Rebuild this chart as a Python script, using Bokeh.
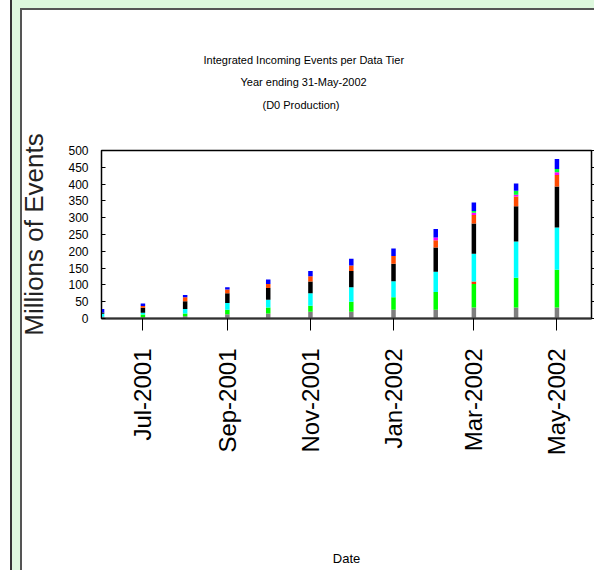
import pandas as pd
from bokeh.plotting import figure
from bokeh.models import (ColumnDataSource, Range1d, FixedTicker, DatetimeTickFormatter,
                          LinearAxis, Title)
from bokeh.embed import file_html
from bokeh.resources import INLINE

# ---- data (millions of events, integrated, per data tier) ----
months = ["2001-06-01", "2001-07-01", "2001-08-01", "2001-09-01", "2001-10-01", "2001-11-01",
          "2001-12-01", "2002-01-01", "2002-02-01", "2002-03-01", "2002-04-01", "2002-05-01"]
tier_gray    = [5, 4, 7, 13, 15, 20, 20, 26, 26, 33, 33, 33]
tier_green   = [0, 8, 8, 13, 18, 18, 30, 37, 53, 70, 88, 112]
tier_red     = [0, 0, 0, 0, 0, 0, 0, 0, 0, 7, 0, 0]
tier_cyan    = [9, 5, 13, 20, 23, 37, 43, 48, 60, 83, 108, 126]
tier_black   = [4, 15, 23, 29, 35, 35, 48, 52, 72, 90, 105, 122]
tier_orange  = [0, 5, 12, 11, 12, 16, 17, 23, 22, 25, 29, 34]
tier_magenta = [0, 0, 0, 0, 0, 0, 0, 0, 8, 7, 5, 8]
tier_green2  = [0, 0, 0, 0, 0, 0, 0, 0, 0, 5, 12, 10]
tier_blue    = [10, 8, 7, 7, 13, 15, 20, 22, 25, 25, 22, 30]

tick_months = ["2001-07-01", "2001-09-01", "2001-11-01", "2002-01-01", "2002-03-01", "2002-05-01"]
y_ticks = [0, 50, 100, 150, 200, 250, 300, 350, 400, 450, 500]

title_lines = ["Integrated Incoming Events per Data Tier", "Year ending 31-May-2002", "(D0 Production)"]

names = ["tier_gray", "tier_green", "tier_red", "tier_cyan", "tier_black",
         "tier_orange", "tier_magenta", "tier_green2", "tier_blue"]
colors = ["#7f7f7f", "#00ff00", "#ff3000", "#00ffff", "#000000",
          "#ff4a00", "#ff00ff", "#00ff33", "#0000ff"]

source = ColumnDataSource(dict(
    date=pd.to_datetime(months),
    tier_gray=tier_gray, tier_green=tier_green, tier_red=tier_red, tier_cyan=tier_cyan,
    tier_black=tier_black, tier_orange=tier_orange, tier_magenta=tier_magenta,
    tier_green2=tier_green2, tier_blue=tier_blue))

sans = "Liberation Sans"

page_styles = {
    "background-color": "#ddf8dd",
    "background-image": ("linear-gradient(#333333,#333333), linear-gradient(#ffffff,#ffffff), "
                         "linear-gradient(#555555,#555555), linear-gradient(#555555,#555555), "
                         "linear-gradient(#ffffff,#ffffff)"),
    "background-size": "2px 100%, 10px 100%, 2px 100%, 100% 2px, 100% 100%",
    "background-position": "10px 0px, 0px 0px, 20px 8px, 20px 8px, 22px 10px",
    "background-repeat": "no-repeat",
}

p = figure(width=594, height=570, output_backend="svg", toolbar_location=None,
           x_axis_type="datetime",
           x_range=Range1d(pd.Timestamp("2001-05-31 14:00"), pd.Timestamp("2002-05-26 09:00")),
           y_range=Range1d(0, 500),
           min_border_left=101, min_border_right=2, min_border_top=150, min_border_bottom=252,
           styles=page_styles)
p.border_fill_alpha = 0
p.background_fill_color = "white"
p.outline_line_color = "black"
p.outline_line_width = 1.5
p.xgrid.visible = False
p.ygrid.visible = False

p.vbar_stack(names, x="date", width=3.3 * 86400000, color=colors, source=source, line_width=0)

xa = p.xaxis[0]
xa.ticker = FixedTicker(ticks=[pd.Timestamp(t).value / 1e6 for t in tick_months])
xa.formatter = DatetimeTickFormatter(months="%b-%Y", days="%b-%Y", years="%b-%Y",
                                     hours="%b-%Y", minutes="%b-%Y")
xa.major_label_orientation = 1.5708
xa.major_label_text_font = sans
xa.major_label_text_font_size = "24px"
xa.major_label_text_color = "black"
xa.major_tick_out = 12
xa.major_tick_in = 0
xa.minor_tick_out = 0
xa.minor_tick_in = 0
xa.major_label_standoff = 18
xa.axis_line_color = "#303030"
xa.axis_line_width = 2
xa.axis_label = "Date"
xa.axis_label_text_font = sans
xa.axis_label_text_font_style = "normal"
xa.axis_label_text_font_size = "13px"
xa.axis_label_text_color = "black"
xa.axis_label_standoff = 93

ya = p.yaxis[0]
ya.ticker = FixedTicker(ticks=y_ticks)
ya.major_label_text_font = sans
ya.major_label_text_font_size = "12px"
ya.major_label_text_color = "black"
ya.major_tick_in = 4
ya.major_tick_out = 0
ya.minor_tick_in = 0
ya.minor_tick_out = 0
ya.major_label_standoff = 13
ya.axis_line_color = "black"
ya.axis_label = "Millions of Events"
ya.axis_label_text_font = sans
ya.axis_label_text_font_style = "normal"
ya.axis_label_text_font_size = "26px"
ya.axis_label_text_color = "#222222"
ya.axis_label_standoff = 16

ra = LinearAxis(ticker=FixedTicker(ticks=y_ticks),
                major_label_overrides={t: "" for t in y_ticks},
                major_tick_out=3, major_tick_in=0, minor_tick_out=0, minor_tick_in=0,
                axis_line_color="black")
p.add_layout(ra, "right")

# three centred title lines; later-added titles sit further from the frame
p.title.visible = False
title_offsets = [161, 139, 102]
title_standoffs = [9, 9, 8]
title_pad_bottom = [33, 0, 0]
for txt, off, so, pb in zip(reversed(title_lines), title_offsets, title_standoffs, title_pad_bottom):
    t = Title(text=txt, align="left", offset=off, standoff=so, vertical_align="top",
              text_font=sans, text_font_size="11px", text_font_style="normal",
              text_color="black")
    if pb:
        try:
            t.padding = dict(top=0, right=0, bottom=pb, left=0)
        except Exception:
            t.standoff = so + 2 * pb
    p.add_layout(t, "above")

open("out.html", "w").write(file_html(p, INLINE))
